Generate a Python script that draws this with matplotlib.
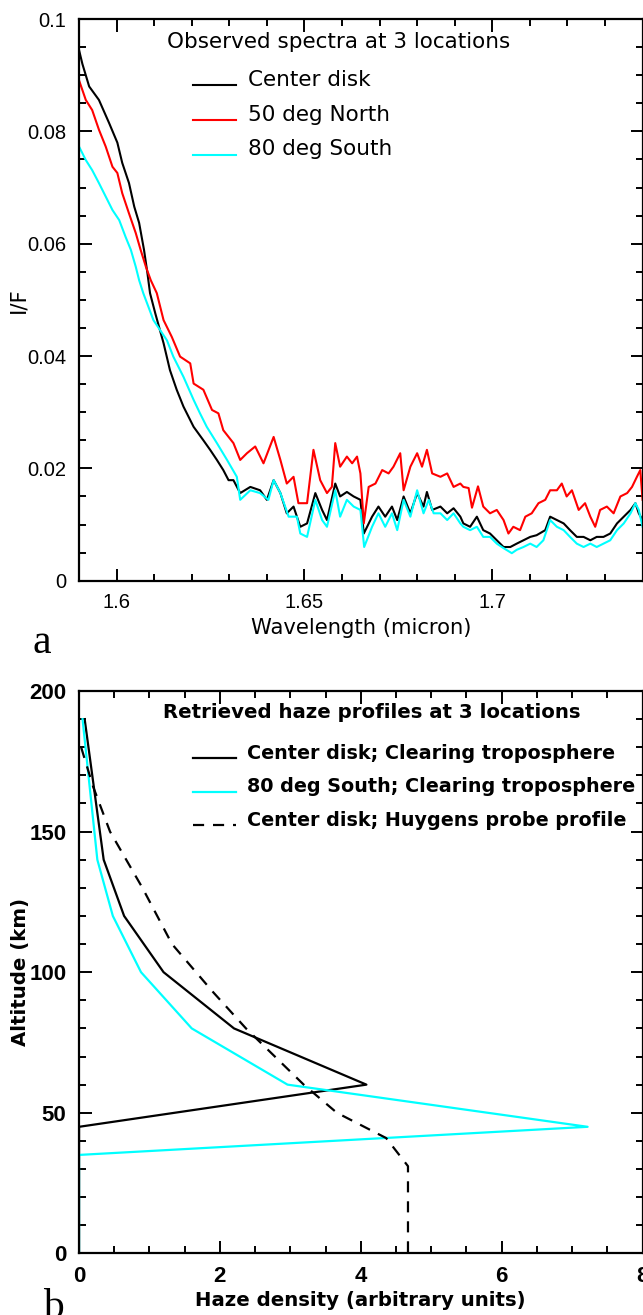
import numpy as np
import matplotlib.pyplot as plt
from matplotlib.ticker import MultipleLocator, FuncFormatter
from matplotlib.legend_handler import HandlerLine2D

# ---- panel a: observed spectra ----
wl_center = [1.5900, 1.5909, 1.5927, 1.5953, 1.5980, 1.6002, 1.6015, 1.6033, 1.6047, 1.6060,
             1.6073, 1.6082, 1.6089, 1.6103, 1.6125, 1.6142, 1.6160, 1.6178, 1.6205, 1.6231,
             1.6249, 1.6267, 1.6284, 1.6298, 1.6311, 1.6329, 1.6356, 1.6382, 1.6400, 1.6418,
             1.6436, 1.6453, 1.6471, 1.6489, 1.6507, 1.6529, 1.6547, 1.6560, 1.6582, 1.6595,
             1.6613, 1.6631, 1.6649, 1.6658, 1.6680, 1.6697, 1.6715, 1.6733, 1.6747, 1.6764,
             1.6782, 1.6800, 1.6817, 1.6826, 1.6840, 1.6862, 1.6880, 1.6897, 1.6915, 1.6923,
             1.6941, 1.6959, 1.6976, 1.6994, 1.7012, 1.7030, 1.7048, 1.7065, 1.7083, 1.7101,
             1.7118, 1.7141, 1.7154, 1.7172, 1.7190, 1.7207, 1.7225, 1.7243, 1.7261, 1.7278,
             1.7296, 1.7314, 1.7332, 1.7350, 1.7368, 1.7381, 1.7390, 1.7400]
if_center = [0.0945, 0.0920, 0.0880, 0.0856, 0.0815, 0.0780, 0.0744, 0.0708, 0.0666, 0.0637,
             0.0589, 0.0548, 0.0512, 0.0476, 0.0423, 0.0375, 0.0340, 0.0310, 0.0274, 0.0250,
             0.0233, 0.0215, 0.0197, 0.0179, 0.0179, 0.0156, 0.0167, 0.0161, 0.0144, 0.0179,
             0.0156, 0.0120, 0.0132, 0.0096, 0.0102, 0.0156, 0.0126, 0.0108, 0.0173, 0.0150,
             0.0158, 0.0150, 0.0144, 0.0084, 0.0114, 0.0132, 0.0114, 0.0132, 0.0108, 0.0150,
             0.0120, 0.0156, 0.0132, 0.0158, 0.0126, 0.0132, 0.0120, 0.0129, 0.0114, 0.0102,
             0.0096, 0.0114, 0.0090, 0.0084, 0.0072, 0.0060, 0.0060, 0.0066, 0.0072, 0.0078,
             0.0081, 0.0090, 0.0114, 0.0108, 0.0102, 0.0090, 0.0078, 0.0078, 0.0072, 0.0078,
             0.0078, 0.0084, 0.0102, 0.0114, 0.0126, 0.0138, 0.0120, 0.0108]

wl_north = [1.5900, 1.5918, 1.5935, 1.5953, 1.5971, 1.5989, 1.6002, 1.6015, 1.6033, 1.6051,
            1.6064, 1.6078, 1.6091, 1.6107, 1.6125, 1.6147, 1.6169, 1.6196, 1.6205, 1.6231,
            1.6254, 1.6271, 1.6284, 1.6311, 1.6329, 1.6347, 1.6369, 1.6391, 1.6418, 1.6436,
            1.6453, 1.6471, 1.6484, 1.6507, 1.6524, 1.6542, 1.6560, 1.6573, 1.6582, 1.6595,
            1.6613, 1.6627, 1.6640, 1.6649, 1.6658, 1.6671, 1.6689, 1.6707, 1.6724, 1.6737,
            1.6755, 1.6764, 1.6782, 1.6800, 1.6813, 1.6826, 1.6840, 1.6862, 1.6880, 1.6897,
            1.6915, 1.6923, 1.6937, 1.6946, 1.6962, 1.6976, 1.6994, 1.7012, 1.7030, 1.7043,
            1.7056, 1.7074, 1.7088, 1.7105, 1.7123, 1.7141, 1.7154, 1.7172, 1.7185, 1.7198,
            1.7212, 1.7230, 1.7247, 1.7261, 1.7274, 1.7287, 1.7305, 1.7323, 1.7341, 1.7359,
            1.7372, 1.7385, 1.7394, 1.7400]
if_north = [0.0891, 0.0856, 0.0838, 0.0803, 0.0773, 0.0737, 0.0726, 0.0690, 0.0654, 0.0619,
            0.0589, 0.0559, 0.0535, 0.0512, 0.0464, 0.0434, 0.0399, 0.0387, 0.0351, 0.0340,
            0.0304, 0.0298, 0.0268, 0.0245, 0.0215, 0.0227, 0.0239, 0.0209, 0.0256, 0.0215,
            0.0173, 0.0185, 0.0138, 0.0138, 0.0233, 0.0179, 0.0156, 0.0167, 0.0245, 0.0203,
            0.0221, 0.0209, 0.0221, 0.0191, 0.0102, 0.0167, 0.0173, 0.0197, 0.0191, 0.0203,
            0.0227, 0.0161, 0.0203, 0.0227, 0.0203, 0.0233, 0.0191, 0.0185, 0.0191, 0.0167,
            0.0173, 0.0167, 0.0165, 0.0130, 0.0168, 0.0132, 0.0120, 0.0126, 0.0108, 0.0084,
            0.0096, 0.0090, 0.0114, 0.0120, 0.0138, 0.0144, 0.0161, 0.0161, 0.0173, 0.0150,
            0.0161, 0.0126, 0.0138, 0.0114, 0.0096, 0.0126, 0.0132, 0.0120, 0.0150, 0.0156,
            0.0167, 0.0185, 0.0197, 0.0144]

wl_south = [1.5900, 1.5918, 1.5935, 1.5953, 1.5971, 1.5989, 1.6007, 1.6024, 1.6038, 1.6051,
            1.6060, 1.6071, 1.6098, 1.6116, 1.6134, 1.6151, 1.6178, 1.6205, 1.6222, 1.6240,
            1.6267, 1.6294, 1.6320, 1.6329, 1.6356, 1.6382, 1.6404, 1.6418, 1.6436, 1.6458,
            1.6480, 1.6489, 1.6507, 1.6529, 1.6547, 1.6560, 1.6582, 1.6595, 1.6613, 1.6631,
            1.6649, 1.6659, 1.6680, 1.6697, 1.6715, 1.6733, 1.6747, 1.6764, 1.6782, 1.6800,
            1.6817, 1.6831, 1.6844, 1.6862, 1.6880, 1.6897, 1.6915, 1.6923, 1.6941, 1.6959,
            1.6976, 1.6994, 1.7012, 1.7030, 1.7052, 1.7065, 1.7083, 1.7101, 1.7118, 1.7136,
            1.7154, 1.7172, 1.7190, 1.7207, 1.7225, 1.7243, 1.7261, 1.7278, 1.7296, 1.7314,
            1.7332, 1.7350, 1.7368, 1.7381, 1.7390, 1.7400]
if_south = [0.0773, 0.0749, 0.0731, 0.0708, 0.0684, 0.0660, 0.0642, 0.0612, 0.0589, 0.0559,
            0.0535, 0.0512, 0.0464, 0.0446, 0.0428, 0.0399, 0.0363, 0.0322, 0.0298, 0.0274,
            0.0245, 0.0215, 0.0185, 0.0144, 0.0161, 0.0156, 0.0144, 0.0179, 0.0156, 0.0114,
            0.0114, 0.0084, 0.0078, 0.0144, 0.0108, 0.0096, 0.0161, 0.0114, 0.0144, 0.0132,
            0.0126, 0.0060, 0.0096, 0.0120, 0.0096, 0.0120, 0.0090, 0.0144, 0.0114, 0.0161,
            0.0120, 0.0144, 0.0120, 0.0120, 0.0108, 0.0120, 0.0102, 0.0096, 0.0090, 0.0096,
            0.0078, 0.0078, 0.0066, 0.0058, 0.0049, 0.0055, 0.0060, 0.0066, 0.0060, 0.0072,
            0.0108, 0.0096, 0.0090, 0.0078, 0.0066, 0.0060, 0.0066, 0.0060, 0.0066, 0.0072,
            0.0090, 0.0102, 0.0120, 0.0138, 0.0126, 0.0096]

# ---- panel b: retrieved haze profiles ----
alt_center = [190, 140, 120, 100, 80, 60, 45, 0]
haze_center = [0.08, 0.35, 0.64, 1.2, 2.2, 4.08, 0.0, 0.0]

alt_south = [190, 140, 120, 100, 80, 60, 45, 35, 0]
haze_south = [0.05, 0.26, 0.48, 0.88, 1.6, 2.96, 7.22, 0.0, 0.0]

alt_huygens = [180, 166, 150, 130, 110, 93, 80, 60, 50, 41, 31, 0]
haze_huygens = [0.03, 0.2, 0.44, 0.9, 1.32, 1.9, 2.37, 3.19, 3.66, 4.36, 4.67, 4.67]

TXT = 'DejaVu Sans'
NUM = 'Liberation Sans'


class LowLine(HandlerLine2D):
    # legend line sits near the text baseline, like the original
    def create_artists(self, legend, orig_handle, xdescent, ydescent,
                       width, height, fontsize, trans):
        arts = super().create_artists(legend, orig_handle, xdescent, ydescent,
                                      width, height, fontsize, trans)
        for a in arts:
            a.set_ydata([y - 0.45 * height for y in a.get_ydata()])
        return arts


def style_axes(ax, bold=False, size=14.5):
    for s in ax.spines.values():
        s.set_linewidth(1.6)
    ax.tick_params(which='both', direction='in', top=True, right=True,
                   width=1.4, labelsize=size, pad=9)
    ax.tick_params(which='major', length=9)
    ax.tick_params(which='minor', length=5)
    for lab in ax.get_xticklabels() + ax.get_yticklabels():
        lab.set_family(NUM)
        if bold:
            lab.set_fontweight('bold')


fig = plt.figure(figsize=(6.43, 13.15), dpi=100)

# ---- top panel ----
ax1 = fig.add_axes([0.1229, 0.5584, 0.8764, 0.4271])
ax1.plot(wl_center, if_center, color='black', lw=1.5, label='Center disk')
ax1.plot(wl_north, if_north, color='red', lw=1.5, label='50 deg North')
ax1.plot(wl_south, if_south, color='cyan', lw=1.5, label='80 deg South')
ax1.set_xlim(1.59, 1.74)
ax1.set_ylim(0, 0.1)
ax1.xaxis.set_major_locator(MultipleLocator(0.05))
ax1.xaxis.set_minor_locator(MultipleLocator(0.01))
ax1.yaxis.set_major_locator(MultipleLocator(0.02))
ax1.yaxis.set_minor_locator(MultipleLocator(0.005))
fmt = FuncFormatter(lambda v, p: '%g' % round(v, 4))
ax1.xaxis.set_major_formatter(fmt)
ax1.yaxis.set_major_formatter(fmt)
style_axes(ax1)
ax1.set_xlabel('Wavelength (micron)', family=TXT, fontsize=15.2)
ax1.set_ylabel('I/F', family=TXT, fontsize=15.2)
ax1.xaxis.set_label_coords(0.5, -0.067)
ax1.yaxis.set_label_coords(-0.09, 0.5)
ax1.text(0.46, 0.96, 'Observed spectra at 3 locations', transform=ax1.transAxes,
         ha='center', va='center', family=TXT, fontsize=15.5)
ax1.legend(loc='upper left', bbox_to_anchor=(0.2018, 0.909), frameon=False,
           prop={'family': TXT, 'size': 15.5}, handlelength=2.0, handletextpad=0.55,
           labelspacing=0.68, borderpad=0, borderaxespad=0,
           handler_map={plt.Line2D: LowLine()})

# ---- bottom panel ----
ax2 = fig.add_axes([0.1229, 0.0469, 0.8764, 0.4276])
ax2.plot(haze_center, alt_center, color='black', lw=1.6,
         label='Center disk; Clearing troposphere')
ax2.plot(haze_south, alt_south, color='cyan', lw=1.6,
         label='80 deg South; Clearing troposphere')
ax2.plot(haze_huygens, alt_huygens, color='black', lw=1.6, dashes=(5, 4),
         label='Center disk; Huygens probe profile')
ax2.set_xlim(0, 8)
ax2.set_ylim(0, 200)
ax2.xaxis.set_major_locator(MultipleLocator(2))
ax2.xaxis.set_minor_locator(MultipleLocator(0.5))
ax2.yaxis.set_major_locator(MultipleLocator(50))
ax2.yaxis.set_minor_locator(MultipleLocator(10))
style_axes(ax2, bold=True, size=16)
ax2.set_xlabel('Haze density (arbitrary units)', family=TXT, fontsize=14.2, fontweight='bold')
ax2.set_ylabel('Altitude (km)', family=TXT, fontsize=14.2, fontweight='bold')
ax2.xaxis.set_label_coords(0.5, -0.067)
ax2.yaxis.set_label_coords(-0.087, 0.5)
ax2.text(0.5187, 0.961, 'Retrieved haze profiles at 3 locations', transform=ax2.transAxes,
         ha='center', va='center', family=TXT, fontsize=14.2, fontweight='bold')
ax2.legend(loc='upper left', bbox_to_anchor=(0.2018, 0.906), frameon=False,
           prop={'family': TXT, 'size': 13.8, 'weight': 'bold'}, handlelength=2.25,
           handletextpad=0.6, labelspacing=0.76, borderpad=0, borderaxespad=0,
           handler_map={plt.Line2D: LowLine()})

# panel letters
fig.text(42 / 643, 1 - 653 / 1315, 'a', ha='center', va='baseline',
         family='Liberation Serif', fontsize=30)
fig.text(53 / 643, 1 - 1318 / 1315, 'b', ha='center', va='baseline',
         family='Liberation Serif', fontsize=30)

fig.savefig('out.png', dpi=100)
